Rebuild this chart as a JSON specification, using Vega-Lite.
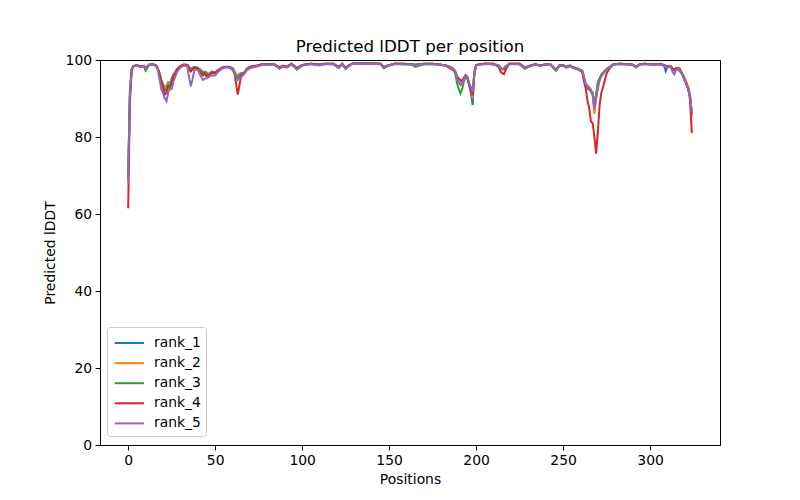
{
  "$schema": "https://vega.github.io/schema/vega-lite/v6.json",
  "autosize": {"type": "none"},
  "padding": {"left": 100, "top": 60, "right": 80, "bottom": 55},
  "width": 620,
  "height": 385,
  "title": {"text": "Predicted lDDT per position", "fontSize": 16.7, "fontWeight": "normal", "font": "DejaVu Sans", "color": "black", "offset": -3},
  "config": {
    "font": "DejaVu Sans",
    "view": {"stroke": "black", "strokeWidth": 1},
    "axis": {"grid": false, "domainColor": "black", "tickColor": "black", "labelColor": "black", "titleColor": "black", "labelFontSize": 13.9, "titleFontSize": 13.9, "titleFontWeight": "normal", "tickSize": 4.9, "labelPadding": 3.5, "labelFont": "DejaVu Sans", "titleFont": "DejaVu Sans"},
    "legend": {"orient": "none", "legendX": 7, "legendY": 267, "padding": 5, "strokeColor": "#cccccc", "fillColor": "white", "cornerRadius": 3, "labelFontSize": 13.9, "labelFont": "DejaVu Sans", "labelColor": "black", "symbolType": "M-0.85,0H2.15", "symbolSize": 380, "symbolStrokeWidth": 2, "labelOffset": 20, "rowPadding": 2.1}
  },
  "data": {"values": [
    {"pos":0,"rank_1":70,"rank_2":72,"rank_3":69,"rank_4":61.5,"rank_5":68},
    {"pos":1,"rank_1":92,"rank_2":92,"rank_3":91,"rank_4":89,"rank_5":91},
    {"pos":2,"rank_1":97.5,"rank_2":97.5,"rank_3":97.5,"rank_4":97.3,"rank_5":97.3},
    {"pos":3,"rank_1":98.4,"rank_2":98.4,"rank_3":98.4,"rank_4":98.4,"rank_5":98.3},
    {"pos":5,"rank_1":98.6,"rank_2":98.6,"rank_3":98.6,"rank_4":98.6,"rank_5":98.5},
    {"pos":7,"rank_1":98.3,"rank_2":98.3,"rank_3":98.2,"rank_4":98.3,"rank_5":98.2},
    {"pos":9,"rank_1":98.5,"rank_2":98.5,"rank_3":98.4,"rank_4":98.5,"rank_5":98.4},
    {"pos":10,"rank_1":97.9,"rank_2":97.8,"rank_3":97.2,"rank_4":97.8,"rank_5":97.7},
    {"pos":12,"rank_1":98.8,"rank_2":98.8,"rank_3":98.7,"rank_4":98.8,"rank_5":98.7},
    {"pos":14,"rank_1":98.9,"rank_2":98.9,"rank_3":98.9,"rank_4":98.9,"rank_5":98.8},
    {"pos":16,"rank_1":98.6,"rank_2":98.6,"rank_3":98.5,"rank_4":98.6,"rank_5":98.5},
    {"pos":17,"rank_1":97.8,"rank_2":97.8,"rank_3":97.7,"rank_4":97.8,"rank_5":97.6},
    {"pos":18,"rank_1":96.6,"rank_2":96.5,"rank_3":96.2,"rank_4":96.5,"rank_5":95.0},
    {"pos":19,"rank_1":94.8,"rank_2":94.6,"rank_3":94.2,"rank_4":94.4,"rank_5":92.5},
    {"pos":20,"rank_1":93.8,"rank_2":93.6,"rank_3":93.0,"rank_4":93.0,"rank_5":91.5},
    {"pos":21,"rank_1":92.8,"rank_2":92.6,"rank_3":92.0,"rank_4":91.0,"rank_5":90.0},
    {"pos":22,"rank_1":93.2,"rank_2":93.0,"rank_3":92.5,"rank_4":91.5,"rank_5":89.3},
    {"pos":23,"rank_1":94.2,"rank_2":94.0,"rank_3":93.5,"rank_4":93.0,"rank_5":91.5},
    {"pos":24,"rank_1":93.8,"rank_2":93.5,"rank_3":93.0,"rank_4":92.5,"rank_5":92.7},
    {"pos":25,"rank_1":95.2,"rank_2":95.0,"rank_3":94.5,"rank_4":94.0,"rank_5":92.5},
    {"pos":26,"rank_1":96.2,"rank_2":96.0,"rank_3":95.8,"rank_4":95.6,"rank_5":94.5},
    {"pos":27,"rank_1":96.8,"rank_2":96.6,"rank_3":96.3,"rank_4":96.4,"rank_5":95.5},
    {"pos":28,"rank_1":97.6,"rank_2":97.5,"rank_3":97.3,"rank_4":97.5,"rank_5":96.8},
    {"pos":30,"rank_1":98.4,"rank_2":98.3,"rank_3":98.2,"rank_4":98.4,"rank_5":98.0},
    {"pos":32,"rank_1":98.8,"rank_2":98.7,"rank_3":98.7,"rank_4":98.8,"rank_5":98.6},
    {"pos":34,"rank_1":98.7,"rank_2":98.6,"rank_3":98.6,"rank_4":98.7,"rank_5":98.3},
    {"pos":35,"rank_1":98.2,"rank_2":98.0,"rank_3":98.0,"rank_4":97.4,"rank_5":95.5},
    {"pos":36,"rank_1":97.6,"rank_2":97.4,"rank_3":97.2,"rank_4":97.0,"rank_5":93.2},
    {"pos":37,"rank_1":98.0,"rank_2":97.8,"rank_3":97.6,"rank_4":97.6,"rank_5":95.0},
    {"pos":38,"rank_1":98.2,"rank_2":98.0,"rank_3":98.0,"rank_4":98.0,"rank_5":97.3},
    {"pos":40,"rank_1":98.0,"rank_2":97.9,"rank_3":97.8,"rank_4":97.9,"rank_5":97.5},
    {"pos":42,"rank_1":97.0,"rank_2":97.4,"rank_3":97.2,"rank_4":96.3,"rank_5":95.5},
    {"pos":43,"rank_1":96.8,"rank_2":96.6,"rank_3":96.4,"rank_4":96.0,"rank_5":94.8},
    {"pos":44,"rank_1":97.0,"rank_2":96.9,"rank_3":96.7,"rank_4":96.5,"rank_5":95.2},
    {"pos":45,"rank_1":96.8,"rank_2":96.6,"rank_3":96.4,"rank_4":95.8,"rank_5":95.2},
    {"pos":46,"rank_1":96.4,"rank_2":96.3,"rank_3":96.1,"rank_4":96.0,"rank_5":95.5},
    {"pos":47,"rank_1":96.5,"rank_2":96.4,"rank_3":96.2,"rank_4":96.2,"rank_5":95.8},
    {"pos":48,"rank_1":97.0,"rank_2":96.9,"rank_3":96.7,"rank_4":96.8,"rank_5":96.0},
    {"pos":50,"rank_1":96.8,"rank_2":96.7,"rank_3":96.5,"rank_4":96.6,"rank_5":96.0},
    {"pos":52,"rank_1":97.5,"rank_2":97.4,"rank_3":97.3,"rank_4":97.4,"rank_5":97.1},
    {"pos":54,"rank_1":98.0,"rank_2":98.0,"rank_3":97.9,"rank_4":98.0,"rank_5":97.8},
    {"pos":56,"rank_1":98.3,"rank_2":98.2,"rank_3":98.2,"rank_4":98.2,"rank_5":98.1},
    {"pos":58,"rank_1":98.2,"rank_2":98.2,"rank_3":98.1,"rank_4":98.2,"rank_5":98.0},
    {"pos":60,"rank_1":97.9,"rank_2":97.3,"rank_3":97.8,"rank_4":97.8,"rank_5":97.6},
    {"pos":61,"rank_1":97.1,"rank_2":96.5,"rank_3":97.0,"rank_4":96.8,"rank_5":96.8},
    {"pos":62,"rank_1":96.2,"rank_2":96.0,"rank_3":96.0,"rank_4":94.0,"rank_5":95.5},
    {"pos":63,"rank_1":96.0,"rank_2":96.0,"rank_3":95.2,"rank_4":91.0,"rank_5":94.8},
    {"pos":64,"rank_1":96.4,"rank_2":96.3,"rank_3":96.0,"rank_4":93.5,"rank_5":95.2},
    {"pos":65,"rank_1":96.6,"rank_2":96.5,"rank_3":96.3,"rank_4":96.0,"rank_5":95.6},
    {"pos":66,"rank_1":96.5,"rank_2":96.4,"rank_3":96.2,"rank_4":96.4,"rank_5":96.0},
    {"pos":67,"rank_1":96.9,"rank_2":96.8,"rank_3":96.7,"rank_4":96.8,"rank_5":96.5},
    {"pos":68,"rank_1":97.6,"rank_2":97.5,"rank_3":97.4,"rank_4":97.5,"rank_5":97.2},
    {"pos":69,"rank_1":98.0,"rank_2":97.9,"rank_3":97.8,"rank_4":97.9,"rank_5":97.6},
    {"pos":71,"rank_1":98.4,"rank_2":98.3,"rank_3":98.3,"rank_4":98.3,"rank_5":98.0},
    {"pos":74,"rank_1":98.6,"rank_2":98.5,"rank_3":98.5,"rank_4":98.5,"rank_5":98.3},
    {"pos":77,"rank_1":98.9,"rank_2":98.9,"rank_3":98.8,"rank_4":98.9,"rank_5":98.7},
    {"pos":80,"rank_1":98.9,"rank_2":98.9,"rank_3":98.9,"rank_4":98.9,"rank_5":98.8},
    {"pos":84,"rank_1":98.9,"rank_2":98.9,"rank_3":98.8,"rank_4":98.9,"rank_5":98.8},
    {"pos":87,"rank_1":98.1,"rank_2":98.0,"rank_3":97.9,"rank_4":98.0,"rank_5":97.7},
    {"pos":89,"rank_1":98.5,"rank_2":98.5,"rank_3":98.4,"rank_4":98.5,"rank_5":98.3},
    {"pos":91,"rank_1":98.3,"rank_2":98.2,"rank_3":98.1,"rank_4":98.2,"rank_5":98.0},
    {"pos":94,"rank_1":99.0,"rank_2":99.0,"rank_3":98.9,"rank_4":99.0,"rank_5":98.9},
    {"pos":97,"rank_1":97.9,"rank_2":97.8,"rank_3":97.7,"rank_4":97.8,"rank_5":97.5},
    {"pos":99,"rank_1":98.5,"rank_2":98.4,"rank_3":98.4,"rank_4":98.4,"rank_5":98.2},
    {"pos":101,"rank_1":98.8,"rank_2":98.8,"rank_3":98.7,"rank_4":98.8,"rank_5":98.7},
    {"pos":105,"rank_1":99.0,"rank_2":99.0,"rank_3":99.0,"rank_4":99.0,"rank_5":98.9},
    {"pos":110,"rank_1":98.8,"rank_2":98.8,"rank_3":98.7,"rank_4":98.8,"rank_5":98.6},
    {"pos":113,"rank_1":99.0,"rank_2":99.0,"rank_3":99.0,"rank_4":99.0,"rank_5":98.9},
    {"pos":118,"rank_1":99.0,"rank_2":99.0,"rank_3":98.9,"rank_4":99.0,"rank_5":98.9},
    {"pos":121,"rank_1":98.2,"rank_2":98.1,"rank_3":98.0,"rank_4":98.1,"rank_5":97.9},
    {"pos":123,"rank_1":99.0,"rank_2":99.0,"rank_3":98.9,"rank_4":99.0,"rank_5":98.9},
    {"pos":125,"rank_1":98.0,"rank_2":97.9,"rank_3":97.8,"rank_4":97.9,"rank_5":97.6},
    {"pos":127,"rank_1":98.7,"rank_2":98.6,"rank_3":98.6,"rank_4":98.6,"rank_5":98.5},
    {"pos":129,"rank_1":99.1,"rank_2":99.1,"rank_3":99.0,"rank_4":99.1,"rank_5":99.0},
    {"pos":135,"rank_1":99.1,"rank_2":99.1,"rank_3":99.1,"rank_4":99.1,"rank_5":99.0},
    {"pos":140,"rank_1":99.1,"rank_2":99.1,"rank_3":99.0,"rank_4":99.1,"rank_5":99.0},
    {"pos":145,"rank_1":99.0,"rank_2":99.0,"rank_3":99.0,"rank_4":99.0,"rank_5":98.9},
    {"pos":147,"rank_1":98.2,"rank_2":98.1,"rank_3":97.8,"rank_4":98.1,"rank_5":98.0},
    {"pos":149,"rank_1":98.6,"rank_2":98.5,"rank_3":98.4,"rank_4":98.5,"rank_5":98.4},
    {"pos":151,"rank_1":98.8,"rank_2":98.8,"rank_3":98.7,"rank_4":98.8,"rank_5":98.7},
    {"pos":153,"rank_1":99.0,"rank_2":99.0,"rank_3":99.0,"rank_4":99.0,"rank_5":98.9},
    {"pos":158,"rank_1":99.0,"rank_2":99.0,"rank_3":98.9,"rank_4":99.0,"rank_5":98.9},
    {"pos":163,"rank_1":98.9,"rank_2":98.9,"rank_3":98.8,"rank_4":98.9,"rank_5":98.8},
    {"pos":165,"rank_1":98.8,"rank_2":98.7,"rank_3":98.2,"rank_4":98.7,"rank_5":98.6},
    {"pos":170,"rank_1":99.0,"rank_2":99.0,"rank_3":98.9,"rank_4":99.0,"rank_5":98.9},
    {"pos":175,"rank_1":99.0,"rank_2":99.0,"rank_3":98.9,"rank_4":99.0,"rank_5":98.9},
    {"pos":180,"rank_1":98.8,"rank_2":98.8,"rank_3":98.7,"rank_4":98.8,"rank_5":98.7},
    {"pos":183,"rank_1":98.6,"rank_2":98.6,"rank_3":98.5,"rank_4":98.4,"rank_5":98.5},
    {"pos":185,"rank_1":98.3,"rank_2":98.2,"rank_3":98.1,"rank_4":97.8,"rank_5":98.1},
    {"pos":187,"rank_1":97.8,"rank_2":97.7,"rank_3":97.5,"rank_4":97.3,"rank_5":97.5},
    {"pos":188,"rank_1":97.1,"rank_2":97.0,"rank_3":96.5,"rank_4":96.8,"rank_5":96.8},
    {"pos":189,"rank_1":95.8,"rank_2":95.5,"rank_3":94.0,"rank_4":95.6,"rank_5":95.2},
    {"pos":190,"rank_1":94.9,"rank_2":94.8,"rank_3":92.5,"rank_4":95.2,"rank_5":94.2},
    {"pos":191,"rank_1":94.3,"rank_2":94.2,"rank_3":91.3,"rank_4":94.8,"rank_5":93.5},
    {"pos":192,"rank_1":94.5,"rank_2":94.4,"rank_3":92.5,"rank_4":94.6,"rank_5":93.8},
    {"pos":193,"rank_1":95.4,"rank_2":95.3,"rank_3":94.5,"rank_4":95.4,"rank_5":95.0},
    {"pos":194,"rank_1":96.1,"rank_2":96.0,"rank_3":95.5,"rank_4":96.0,"rank_5":95.8},
    {"pos":195,"rank_1":95.6,"rank_2":95.5,"rank_3":95.3,"rank_4":95.5,"rank_5":95.5},
    {"pos":196,"rank_1":93.6,"rank_2":93.8,"rank_3":93.5,"rank_4":93.5,"rank_5":94.0},
    {"pos":197,"rank_1":91.5,"rank_2":92.5,"rank_3":92.5,"rank_4":92.3,"rank_5":93.0},
    {"pos":198,"rank_1":88.3,"rank_2":90.0,"rank_3":91.0,"rank_4":90.8,"rank_5":91.7},
    {"pos":199,"rank_1":96.5,"rank_2":96.7,"rank_3":96.8,"rank_4":96.6,"rank_5":96.6},
    {"pos":200,"rank_1":98.6,"rank_2":98.6,"rank_3":98.6,"rank_4":98.6,"rank_5":98.5},
    {"pos":202,"rank_1":98.9,"rank_2":98.9,"rank_3":98.9,"rank_4":98.9,"rank_5":98.8},
    {"pos":205,"rank_1":99.0,"rank_2":99.0,"rank_3":99.0,"rank_4":99.0,"rank_5":98.9},
    {"pos":210,"rank_1":99.0,"rank_2":99.0,"rank_3":98.9,"rank_4":99.0,"rank_5":98.9},
    {"pos":213,"rank_1":98.6,"rank_2":98.5,"rank_3":98.5,"rank_4":98.2,"rank_5":98.4},
    {"pos":214,"rank_1":98.1,"rank_2":98.0,"rank_3":98.0,"rank_4":97.0,"rank_5":97.8},
    {"pos":215,"rank_1":97.7,"rank_2":97.6,"rank_3":97.6,"rank_4":96.6,"rank_5":97.5},
    {"pos":216,"rank_1":97.8,"rank_2":97.7,"rank_3":97.6,"rank_4":96.3,"rank_5":97.8},
    {"pos":217,"rank_1":98.4,"rank_2":98.3,"rank_3":98.3,"rank_4":97.5,"rank_5":98.3},
    {"pos":219,"rank_1":99.0,"rank_2":99.0,"rank_3":98.9,"rank_4":99.0,"rank_5":98.9},
    {"pos":222,"rank_1":99.0,"rank_2":99.0,"rank_3":99.0,"rank_4":99.0,"rank_5":98.9},
    {"pos":225,"rank_1":99.0,"rank_2":99.0,"rank_3":98.9,"rank_4":99.0,"rank_5":98.9},
    {"pos":227,"rank_1":98.4,"rank_2":98.3,"rank_3":98.2,"rank_4":98.3,"rank_5":98.1},
    {"pos":228,"rank_1":98.0,"rank_2":97.9,"rank_3":97.8,"rank_4":97.9,"rank_5":97.7},
    {"pos":230,"rank_1":98.4,"rank_2":98.3,"rank_3":98.2,"rank_4":98.3,"rank_5":98.2},
    {"pos":232,"rank_1":98.7,"rank_2":98.6,"rank_3":98.6,"rank_4":98.6,"rank_5":98.5},
    {"pos":234,"rank_1":98.9,"rank_2":98.9,"rank_3":98.8,"rank_4":98.9,"rank_5":98.8},
    {"pos":237,"rank_1":98.6,"rank_2":98.6,"rank_3":98.5,"rank_4":98.6,"rank_5":98.5},
    {"pos":240,"rank_1":98.9,"rank_2":98.9,"rank_3":98.8,"rank_4":98.9,"rank_5":98.8},
    {"pos":243,"rank_1":98.8,"rank_2":98.8,"rank_3":98.7,"rank_4":98.8,"rank_5":98.7},
    {"pos":245,"rank_1":97.9,"rank_2":97.8,"rank_3":97.6,"rank_4":97.8,"rank_5":97.7},
    {"pos":246,"rank_1":97.6,"rank_2":97.5,"rank_3":97.2,"rank_4":97.5,"rank_5":97.3},
    {"pos":248,"rank_1":98.7,"rank_2":98.6,"rank_3":98.6,"rank_4":98.6,"rank_5":98.5},
    {"pos":250,"rank_1":98.7,"rank_2":98.6,"rank_3":98.5,"rank_4":98.6,"rank_5":98.5},
    {"pos":252,"rank_1":98.3,"rank_2":98.2,"rank_3":98.1,"rank_4":98.2,"rank_5":98.0},
    {"pos":254,"rank_1":98.6,"rank_2":98.5,"rank_3":98.4,"rank_4":98.5,"rank_5":98.4},
    {"pos":256,"rank_1":98.1,"rank_2":98.0,"rank_3":97.9,"rank_4":98.0,"rank_5":97.9},
    {"pos":258,"rank_1":97.9,"rank_2":97.8,"rank_3":97.7,"rank_4":97.7,"rank_5":97.6},
    {"pos":260,"rank_1":97.5,"rank_2":97.4,"rank_3":97.3,"rank_4":97.2,"rank_5":97.3},
    {"pos":261,"rank_1":97.3,"rank_2":97.2,"rank_3":97.1,"rank_4":96.8,"rank_5":97.0},
    {"pos":262,"rank_1":95.6,"rank_2":95.6,"rank_3":95.4,"rank_4":94.5,"rank_5":95.4},
    {"pos":263,"rank_1":93.8,"rank_2":93.9,"rank_3":93.6,"rank_4":92.6,"rank_5":93.6},
    {"pos":264,"rank_1":92.5,"rank_2":93.4,"rank_3":93.2,"rank_4":89.5,"rank_5":93.3},
    {"pos":265,"rank_1":92.3,"rank_2":93.0,"rank_3":92.6,"rank_4":87.5,"rank_5":92.5},
    {"pos":266,"rank_1":91.8,"rank_2":92.4,"rank_3":92.0,"rank_4":84.0,"rank_5":92.0},
    {"pos":267,"rank_1":91.0,"rank_2":91.2,"rank_3":91.5,"rank_4":83.6,"rank_5":91.3},
    {"pos":268,"rank_1":87.0,"rank_2":86.0,"rank_3":89.0,"rank_4":80.0,"rank_5":87.3},
    {"pos":269,"rank_1":90.0,"rank_2":91.0,"rank_3":91.0,"rank_4":75.7,"rank_5":90.5},
    {"pos":270,"rank_1":93.8,"rank_2":94.0,"rank_3":94.2,"rank_4":81.4,"rank_5":92.6},
    {"pos":271,"rank_1":95.0,"rank_2":95.1,"rank_3":95.2,"rank_4":88.3,"rank_5":94.6},
    {"pos":272,"rank_1":96.0,"rank_2":96.1,"rank_3":96.2,"rank_4":91.5,"rank_5":95.8},
    {"pos":273,"rank_1":96.6,"rank_2":96.7,"rank_3":96.7,"rank_4":93.0,"rank_5":96.4},
    {"pos":275,"rank_1":97.6,"rank_2":97.6,"rank_3":97.6,"rank_4":96.5,"rank_5":97.4},
    {"pos":277,"rank_1":98.3,"rank_2":98.3,"rank_3":98.2,"rank_4":98.0,"rank_5":98.2},
    {"pos":279,"rank_1":98.9,"rank_2":98.9,"rank_3":98.8,"rank_4":98.9,"rank_5":98.8},
    {"pos":283,"rank_1":99.0,"rank_2":99.0,"rank_3":99.0,"rank_4":99.0,"rank_5":98.9},
    {"pos":287,"rank_1":98.9,"rank_2":98.9,"rank_3":98.9,"rank_4":98.9,"rank_5":98.8},
    {"pos":290,"rank_1":98.8,"rank_2":98.8,"rank_3":98.7,"rank_4":98.8,"rank_5":98.7},
    {"pos":292,"rank_1":98.3,"rank_2":98.2,"rank_3":98.1,"rank_4":98.2,"rank_5":98.1},
    {"pos":294,"rank_1":98.9,"rank_2":98.9,"rank_3":98.8,"rank_4":98.9,"rank_5":98.8},
    {"pos":297,"rank_1":99.0,"rank_2":99.0,"rank_3":99.0,"rank_4":99.0,"rank_5":98.9},
    {"pos":300,"rank_1":98.9,"rank_2":98.9,"rank_3":98.9,"rank_4":98.9,"rank_5":98.8},
    {"pos":303,"rank_1":98.9,"rank_2":98.9,"rank_3":98.8,"rank_4":98.9,"rank_5":98.8},
    {"pos":306,"rank_1":98.9,"rank_2":98.9,"rank_3":98.9,"rank_4":99.0,"rank_5":98.8},
    {"pos":308,"rank_1":98.6,"rank_2":98.6,"rank_3":98.5,"rank_4":98.7,"rank_5":98.5},
    {"pos":309,"rank_1":97.1,"rank_2":98.3,"rank_3":98.2,"rank_4":98.5,"rank_5":98.2},
    {"pos":310,"rank_1":98.3,"rank_2":98.3,"rank_3":98.2,"rank_4":98.4,"rank_5":98.2},
    {"pos":312,"rank_1":98.3,"rank_2":98.3,"rank_3":98.2,"rank_4":98.3,"rank_5":98.1},
    {"pos":313,"rank_1":97.6,"rank_2":97.6,"rank_3":97.5,"rank_4":97.8,"rank_5":96.8},
    {"pos":314,"rank_1":97.3,"rank_2":97.4,"rank_3":97.3,"rank_4":97.5,"rank_5":96.3},
    {"pos":315,"rank_1":97.8,"rank_2":97.9,"rank_3":97.8,"rank_4":97.9,"rank_5":97.6},
    {"pos":317,"rank_1":97.7,"rank_2":97.0,"rank_3":97.7,"rank_4":97.8,"rank_5":97.6},
    {"pos":319,"rank_1":95.8,"rank_2":96.2,"rank_3":95.8,"rank_4":95.9,"rank_5":95.7},
    {"pos":321,"rank_1":93.6,"rank_2":94.2,"rank_3":93.5,"rank_4":93.6,"rank_5":93.5},
    {"pos":322,"rank_1":92.4,"rank_2":93.0,"rank_3":92.4,"rank_4":92.3,"rank_5":92.3},
    {"pos":323,"rank_1":90.4,"rank_2":90.8,"rank_3":90.5,"rank_4":89.5,"rank_5":90.5},
    {"pos":324,"rank_1":86.0,"rank_2":85.3,"rank_3":86.3,"rank_4":81.0,"rank_5":86.5}
  ]},
  "transform": [
    {"fold": ["rank_1", "rank_2", "rank_3", "rank_4", "rank_5"], "as": ["model", "plddt"]}
  ],
  "mark": {"type": "line", "strokeWidth": 2, "interpolate": "linear"},
  "encoding": {
    "x": {"field": "pos", "type": "quantitative", "title": "Positions", "scale": {"domain": [-16.2, 340.2], "nice": false, "zero": false}, "axis": {"values": [0, 50, 100, 150, 200, 250, 300], "titlePadding": 5}},
    "y": {"field": "plddt", "type": "quantitative", "title": "Predicted lDDT", "scale": {"domain": [0, 100], "nice": false}, "axis": {"values": [0, 20, 40, 60, 80, 100], "titlePadding": 8}},
    "color": {"field": "model", "type": "nominal", "title": null, "scale": {"domain": ["rank_1", "rank_2", "rank_3", "rank_4", "rank_5"], "range": ["#1f77b4", "#ff7f0e", "#2ca02c", "#d62728", "#9467bd"]}}
  }
}
